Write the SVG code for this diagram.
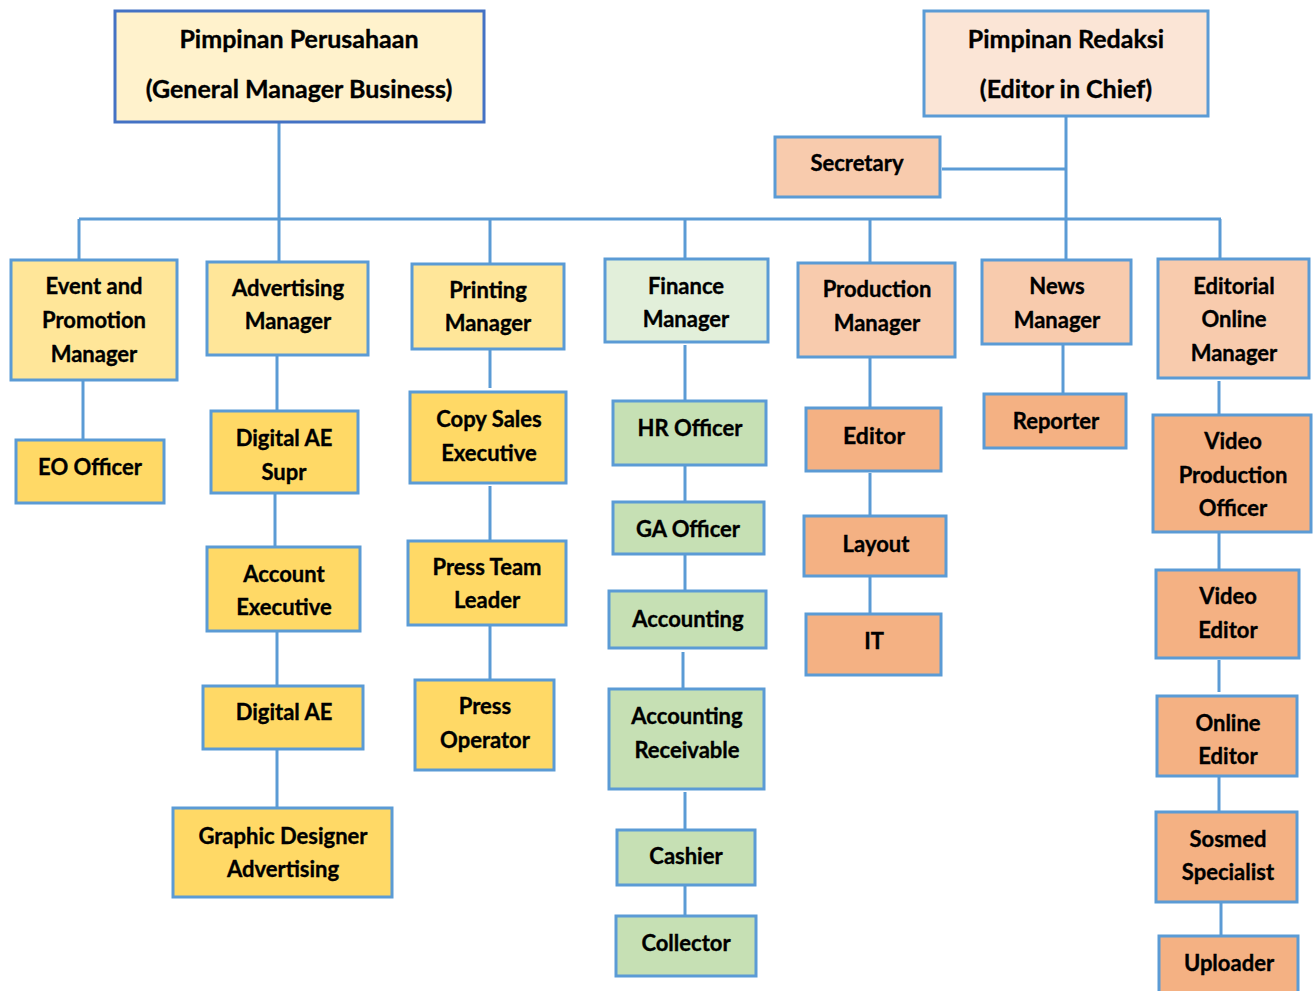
<svg xmlns="http://www.w3.org/2000/svg" width="1315" height="991" viewBox="0 0 1315 991">
<style>
.n rect{stroke:#5B9BD5;stroke-width:3}
.n rect.top{stroke:#4472C4}
.y1{fill:#FFE699}.y2{fill:#FFD966}.g1{fill:#E2EFDA}.g2{fill:#C6E0B4}
.o1{fill:#F8CBAD}.o2{fill:#F4B183}.c1{fill:#FFF2CC}.c2{fill:#FBE5D6}
text{font-family:Lato,"Liberation Sans",sans-serif;font-weight:bold;font-size:22px;fill:#000;stroke:#000;stroke-width:0.35;text-anchor:middle}
.big{font-size:23px}
.hd{font-size:25px}
#connectors line{stroke:#5B9BD5;stroke-width:3;fill:none}
</style>
<rect width="1315" height="991" fill="#fff"/>
<g id="connectors">
<line x1="279" y1="122" x2="279" y2="219"/>
<line x1="1066" y1="116" x2="1066" y2="219"/>
<line x1="942" y1="169" x2="1066" y2="169"/>
<line x1="79" y1="219" x2="1221" y2="219"/>
<line x1="79" y1="219" x2="79" y2="260"/>
<line x1="279" y1="219" x2="279" y2="262"/>
<line x1="490" y1="219" x2="490" y2="264"/>
<line x1="685" y1="219" x2="685" y2="259"/>
<line x1="870" y1="219" x2="870" y2="263"/>
<line x1="1066" y1="219" x2="1066" y2="260"/>
<line x1="1220" y1="219" x2="1220" y2="259"/>
<line x1="83" y1="380" x2="83" y2="440"/>
<line x1="277" y1="355" x2="277" y2="411"/>
<line x1="275" y1="493" x2="275" y2="547"/>
<line x1="277" y1="631" x2="277" y2="686"/>
<line x1="277" y1="749" x2="277" y2="808"/>
<line x1="490" y1="349" x2="490" y2="388"/>
<line x1="490" y1="486" x2="490" y2="541"/>
<line x1="490" y1="625" x2="490" y2="680"/>
<line x1="685" y1="345" x2="685" y2="400"/>
<line x1="685" y1="465" x2="685" y2="502"/>
<line x1="685" y1="554" x2="685" y2="591"/>
<line x1="683" y1="652" x2="683" y2="689"/>
<line x1="685" y1="792" x2="685" y2="830"/>
<line x1="685" y1="885" x2="685" y2="916"/>
<line x1="870" y1="357" x2="870" y2="408"/>
<line x1="870" y1="473" x2="870" y2="515"/>
<line x1="870" y1="576" x2="870" y2="614"/>
<line x1="1063" y1="344" x2="1063" y2="394"/>
<line x1="1219" y1="381" x2="1219" y2="415"/>
<line x1="1219" y1="532" x2="1219" y2="570"/>
<line x1="1219" y1="660" x2="1219" y2="692"/>
<line x1="1219" y1="777" x2="1219" y2="812"/>
<line x1="1221" y1="903" x2="1221" y2="936"/>
</g>
<g class="n">
<g id="pimpinan-perusahaan"><rect class="top c1" x="115" y="11" width="369" height="111"/><text class="hd" x="299" y="48">Pimpinan Perusahaan</text><text class="hd" x="299" y="98">(General Manager Business)</text></g>
<g id="pimpinan-redaksi"><rect class="c2" x="924" y="11" width="284" height="105"/><text class="hd" x="1066" y="48">Pimpinan Redaksi</text><text class="hd" x="1066" y="98">(Editor in Chief)</text></g>
<g id="secretary"><rect class="o1" x="775" y="137" width="165" height="60"/><text x="857" y="171">Secretary</text></g>
<g id="event-promotion-manager"><rect class="y1" x="11" y="260" width="166" height="120"/><text x="94" y="294">Event and</text><text x="94" y="328">Promotion</text><text x="94" y="362">Manager</text></g>
<g id="advertising-manager"><rect class="y1" x="207" y="262" width="161" height="93"/><text x="288" y="296">Advertising</text><text x="288" y="329">Manager</text></g>
<g id="printing-manager"><rect class="y1" x="412" y="264" width="152" height="85"/><text x="488" y="298">Printing</text><text x="488" y="331">Manager</text></g>
<g id="finance-manager"><rect class="g1" x="605" y="259" width="163" height="83"/><text x="686" y="294">Finance</text><text x="686" y="327">Manager</text></g>
<g id="production-manager"><rect class="o1" x="798" y="263" width="157" height="94"/><text x="877" y="297">Production</text><text x="877" y="331">Manager</text></g>
<g id="news-manager"><rect class="o1" x="982" y="260" width="149" height="84"/><text x="1057" y="294">News</text><text x="1057" y="328">Manager</text></g>
<g id="editorial-online-manager"><rect class="o1" x="1158" y="259" width="151" height="119"/><text x="1234" y="294">Editorial</text><text x="1234" y="327">Online</text><text x="1234" y="361">Manager</text></g>
<g id="eo-officer"><rect class="y2" x="16" y="440" width="148" height="63"/><text x="90" y="475">EO Officer</text></g>
<g id="digital-ae-supr"><rect class="y2" x="211" y="411" width="147" height="82"/><text x="284" y="446">Digital AE</text><text x="284" y="480">Supr</text></g>
<g id="account-executive"><rect class="y2" x="207" y="547" width="153" height="84"/><text x="284" y="582">Account</text><text x="284" y="615">Executive</text></g>
<g id="digital-ae"><rect class="y2" x="203" y="686" width="160" height="63"/><text x="284" y="720">Digital AE</text></g>
<g id="graphic-designer-advertising"><rect class="y2" x="173" y="808" width="219" height="89"/><text x="283" y="844">Graphic Designer</text><text x="283" y="877">Advertising</text></g>
<g id="copy-sales-executive"><rect class="y2" x="410" y="392" width="156" height="91"/><text x="489" y="427">Copy Sales</text><text x="489" y="461">Executive</text></g>
<g id="press-team-leader"><rect class="y2" x="408" y="541" width="158" height="84"/><text x="487" y="575">Press Team</text><text x="487" y="608">Leader</text></g>
<g id="press-operator"><rect class="y2" x="415" y="680" width="139" height="90"/><text x="485" y="714">Press</text><text x="485" y="748">Operator</text></g>
<g id="hr-officer"><rect class="g2" x="613" y="401" width="153" height="64"/><text x="690" y="436">HR Officer</text></g>
<g id="ga-officer"><rect class="g2" x="613" y="502" width="151" height="52"/><text x="688" y="537">GA Officer</text></g>
<g id="accounting"><rect class="g2" x="609" y="591" width="157" height="57"/><text x="688" y="627">Accounting</text></g>
<g id="accounting-receivable"><rect class="g2" x="609" y="689" width="155" height="100"/><text x="687" y="724">Accounting</text><text x="687" y="758">Receivable</text></g>
<g id="cashier"><rect class="g2" x="617" y="830" width="138" height="55"/><text x="686" y="864">Cashier</text></g>
<g id="collector"><rect class="g2" x="616" y="916" width="140" height="60"/><text x="686" y="951">Collector</text></g>
<g id="editor"><rect class="o2" x="806" y="408" width="135" height="63"/><text class="big" x="874" y="444">Editor</text></g>
<g id="layout"><rect class="o2" x="804" y="516" width="142" height="60"/><text x="876" y="552">Layout</text></g>
<g id="it"><rect class="o2" x="806" y="614" width="135" height="61"/><text x="874" y="649">IT</text></g>
<g id="reporter"><rect class="o2" x="984" y="394" width="142" height="54"/><text x="1056" y="429">Reporter</text></g>
<g id="video-production-officer"><rect class="o2" x="1153" y="415" width="158" height="117"/><text x="1233" y="449">Video</text><text x="1233" y="483">Production</text><text x="1233" y="516">Officer</text></g>
<g id="video-editor"><rect class="o2" x="1156" y="570" width="143" height="88"/><text x="1228" y="604">Video</text><text x="1228" y="638">Editor</text></g>
<g id="online-editor"><rect class="o2" x="1157" y="696" width="140" height="80"/><text x="1228" y="731">Online</text><text x="1228" y="764">Editor</text></g>
<g id="sosmed-specialist"><rect class="o2" x="1156" y="812" width="141" height="90"/><text x="1228" y="847">Sosmed</text><text x="1228" y="880">Specialist</text></g>
<g id="uploader"><rect class="o2" x="1159" y="936" width="139" height="60"/><text x="1229" y="971">Uploader</text></g>
</g>
</svg>
